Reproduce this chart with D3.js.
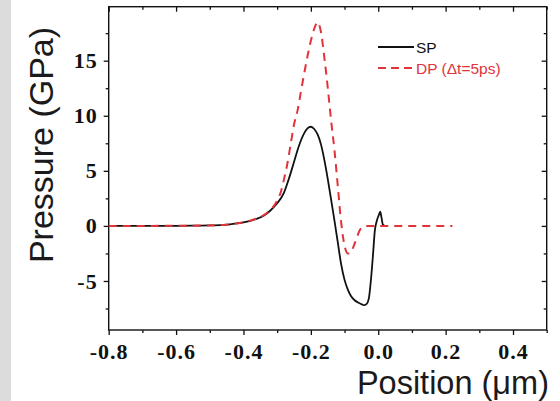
<!DOCTYPE html>
<html>
<head>
<meta charset="utf-8">
<script src="https://cdn.jsdelivr.net/npm/d3@7"></script>
<style>
  html, body { margin: 0; padding: 0; background: #fff; }
  svg { display: block; }
</style>
</head>
<body>
<svg id="chart" width="560" height="401"></svg>
<script>
// Pressure profiles along the position axis
const spPosition = [-0.80, -0.70, -0.60, -0.55, -0.50, -0.46, -0.44, -0.42, -0.40, -0.38, -0.36, -0.34, -0.32, -0.30, -0.28, -0.265, -0.25, -0.235, -0.22, -0.21, -0.20, -0.19, -0.18, -0.17, -0.16, -0.15, -0.14, -0.13, -0.12, -0.11, -0.10, -0.09, -0.08, -0.07, -0.06, -0.05, -0.043, -0.035, -0.028, -0.022, -0.016, -0.010, -0.004, 0.002, 0.006, 0.010, 0.014, 0.018];
const spPressure = [0, 0, 0.01, 0.02, 0.04, 0.09, 0.14, 0.22, 0.32, 0.46, 0.65, 0.92, 1.40, 2.05, 3.0, 4.3, 5.8, 7.3, 8.4, 8.85, 9.0, 8.8, 8.3, 7.4, 6.0, 4.3, 2.4, 0.5, -1.5, -3.5, -4.9, -5.8, -6.4, -6.75, -6.95, -7.1, -7.2, -7.1, -6.6, -5.0, -2.8, -0.4, 0.5, 1.0, 1.3, 0.7, 0.1, 0.05];

const dpPosition = [-0.80, -0.70, -0.60, -0.55, -0.50, -0.46, -0.44, -0.42, -0.40, -0.38, -0.36, -0.34, -0.32, -0.30, -0.29, -0.28, -0.27, -0.26, -0.25, -0.24, -0.23, -0.22, -0.21, -0.20, -0.19, -0.18, -0.17, -0.16, -0.15, -0.14, -0.13, -0.12, -0.11, -0.10, -0.09, -0.085, -0.075, -0.065, -0.055, -0.045, -0.035, 0.22];
const dpPressure = [0, 0, 0.01, 0.02, 0.04, 0.09, 0.14, 0.22, 0.33, 0.48, 0.68, 0.98, 1.45, 2.3, 3.0, 4.2, 5.6, 7.4, 9.2, 10.4, 12.1, 13.8, 15.4, 16.8, 17.9, 18.5, 17.6, 15.3, 12.6, 9.6, 6.9, 3.6, 0.3, -1.8, -2.5, -2.5, -2.0, -1.2, -0.4, -0.08, 0, 0];

const xMajorTicks = [-0.8, -0.6, -0.4, -0.2, 0.0, 0.2, 0.4];
const xMinorTicks = [-0.7, -0.5, -0.3, -0.1, 0.1, 0.3, 0.5];
const yMajorTicks = [-5, 0, 5, 10, 15];
const yMinorTicks = [-7.5, -2.5, 2.5, 7.5, 12.5, 17.5];

const seriesNames = ["SP", "DP (\u0394t=5ps)"];
const xTitle = "Position (\u03bcm)";
const yTitle = "Pressure (GPa)";

const RED = "#e2323a";
const svg = d3.select("#chart");

// grey margin strip on the left
svg.append("rect").attr("x", 0).attr("y", 0).attr("width", 11).attr("height", 401).attr("fill", "#dcdcdc");

const plot = { left: 108.7, right: 546.7, top: 6.7, bottom: 330 };
const x = d3.scaleLinear().domain([-0.8, 0.5]).range([plot.left, plot.right]);
const y = d3.scaleLinear().domain([-9.45, 19.9]).range([plot.bottom, plot.top]);

const tickFont = "'Liberation Serif', 'Times New Roman', serif";
const sansFont = "'Liberation Sans', Arial, sans-serif";

// plain hyphen for negative numbers
const hyphen = f => d => f(d).replace("\u2212", "-");
const fmtX = hyphen(d3.format(".1f"));
const fmtY = hyphen(d3.format("d"));

function styleAxis(g) {
  g.select(".domain").remove();
  g.selectAll(".tick line").attr("stroke", "#111").attr("stroke-width", 1.3);
}
function styleLabels(g) {
  g.selectAll(".tick text")
    .attr("font-family", tickFont).attr("font-weight", "bold").attr("font-size", 22)
    .attr("fill", "#111").attr("letter-spacing", 1);
}

// bottom axis (outward ticks, labelled)
svg.append("g").attr("transform", `translate(0,${plot.bottom})`)
  .call(d3.axisBottom(x).tickValues(xMajorTicks).tickSize(5).tickPadding(8).tickFormat(fmtX))
  .call(styleAxis).call(styleLabels);
svg.append("g").attr("transform", `translate(0,${plot.bottom})`)
  .call(d3.axisBottom(x).tickValues(xMinorTicks).tickSize(3).tickFormat(""))
  .call(styleAxis);

// top axis (inward ticks)
svg.append("g").attr("transform", `translate(0,${plot.top})`)
  .call(d3.axisBottom(x).tickValues(xMajorTicks).tickSize(5).tickFormat(""))
  .call(styleAxis);
svg.append("g").attr("transform", `translate(0,${plot.top})`)
  .call(d3.axisBottom(x).tickValues(xMinorTicks).tickSize(3).tickFormat(""))
  .call(styleAxis);

// left axis (outward ticks, labelled)
svg.append("g").attr("transform", `translate(${plot.left},0)`)
  .call(d3.axisLeft(y).tickValues(yMajorTicks).tickSize(5).tickPadding(6).tickFormat(fmtY))
  .call(styleAxis).call(styleLabels);
svg.append("g").attr("transform", `translate(${plot.left},0)`)
  .call(d3.axisLeft(y).tickValues(yMinorTicks).tickSize(3).tickFormat(""))
  .call(styleAxis);

// right axis (inward ticks)
svg.append("g").attr("transform", `translate(${plot.right},0)`)
  .call(d3.axisLeft(y).tickValues(yMajorTicks).tickSize(5).tickFormat(""))
  .call(styleAxis);
svg.append("g").attr("transform", `translate(${plot.right},0)`)
  .call(d3.axisLeft(y).tickValues(yMinorTicks).tickSize(3).tickFormat(""))
  .call(styleAxis);

// frame
svg.append("rect")
  .attr("x", plot.left).attr("y", plot.top)
  .attr("width", plot.right - plot.left).attr("height", plot.bottom - plot.top)
  .attr("fill", "none").attr("stroke", "#111").attr("stroke-width", 1.4);

// curves
const line = d3.line().x(d => x(d[0])).y(d => y(d[1])).curve(d3.curveMonotoneX);
const spData = d3.zip(spPosition, spPressure);
const dpData = d3.zip(dpPosition, dpPressure);

svg.append("path").datum(spData).attr("d", line)
  .attr("fill", "none").attr("stroke", "#111").attr("stroke-width", 1.8)
  .attr("stroke-linejoin", "round");
svg.append("path").datum(dpData).attr("d", line)
  .attr("fill", "none").attr("stroke", RED).attr("stroke-width", 2)
  .attr("stroke-dasharray", "8,6");

// legend
const legend = svg.append("g");
legend.append("line").attr("x1", 378).attr("x2", 414).attr("y1", 47).attr("y2", 47)
  .attr("stroke", "#111").attr("stroke-width", 1.8);
legend.append("text").attr("x", 416).attr("y", 52.5).text(seriesNames[0])
  .attr("font-family", sansFont).attr("font-size", 15.5).attr("fill", "#111");
legend.append("line").attr("x1", 378).attr("x2", 413).attr("y1", 68).attr("y2", 68)
  .attr("stroke", RED).attr("stroke-width", 2).attr("stroke-dasharray", "8,5");
legend.append("text").attr("x", 416).attr("y", 73.5).text(seriesNames[1])
  .attr("font-family", sansFont).attr("font-size", 15.5).attr("fill", RED);

// axis titles
svg.append("text").attr("x", 549).attr("y", 394).attr("text-anchor", "end")
  .attr("font-family", sansFont).attr("font-size", 32.5).attr("fill", "#1a1a1a")
  .text(xTitle);
svg.append("text")
  .attr("transform", "translate(53,145) rotate(-90)")
  .attr("text-anchor", "middle")
  .attr("font-family", sansFont).attr("font-size", 34).attr("fill", "#1a1a1a")
  .text(yTitle);
</script>
</body>
</html>
